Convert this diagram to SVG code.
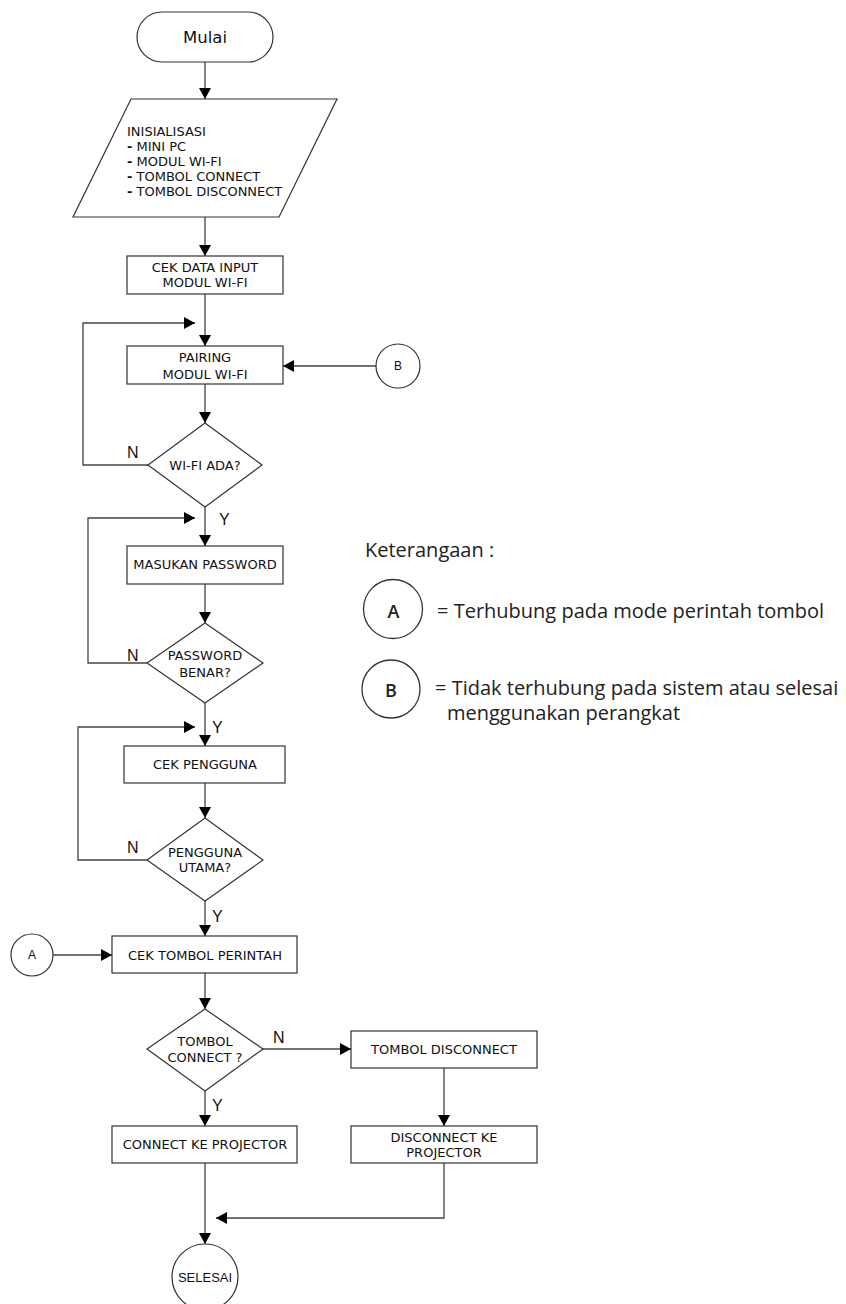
<svg xmlns="http://www.w3.org/2000/svg" width="846" height="1304" viewBox="0 0 846 1304">
<style>
.shape{fill:#fff;stroke:#333;stroke-width:1.2}
.conn{fill:none;stroke:#444;stroke-width:1.3}
.t{font-family:"DejaVu Sans",Verdana,sans-serif;font-size:13px;fill:#111}
.tc{text-anchor:middle}
.lbl{font-family:"Liberation Sans",Arial,sans-serif;font-size:16px;fill:#111}
.sm{font-family:"Liberation Sans",Arial,sans-serif;font-size:12px;fill:#111;text-anchor:middle}
.leg{font-family:"Open Sans","Noto Sans",sans-serif;font-size:20px;fill:#222}
.legc{fill:none;stroke:#333;stroke-width:1.3}
.legl{font-family:"Open Sans","Noto Sans",sans-serif;font-size:18px;font-weight:600;fill:#222;text-anchor:middle}
</style>
<defs>
<marker id="ah" markerUnits="userSpaceOnUse" markerWidth="12" markerHeight="12" refX="11" refY="6" orient="auto">
<path d="M0,0 L11,6 L0,12 z" fill="#000"/>
</marker>
</defs>
<rect width="846" height="1304" fill="#fff"/>

<g id="connectors">
<path class="conn" d="M205,62 V99" marker-end="url(#ah)"/>
<path class="conn" d="M205,217 V256" marker-end="url(#ah)"/>
<path class="conn" d="M205,294 V346" marker-end="url(#ah)"/>
<path class="conn" d="M376,366 H283" marker-end="url(#ah)"/>
<path class="conn" d="M205,384 V423" marker-end="url(#ah)"/>
<path class="conn" d="M148,465 H83 V323 H195" marker-end="url(#ah)"/>
<path class="conn" d="M205,507 V546" marker-end="url(#ah)"/>
<path class="conn" d="M205,584 V623" marker-end="url(#ah)"/>
<path class="conn" d="M147,663 H88 V518 H195" marker-end="url(#ah)"/>
<path class="conn" d="M205,703 V746" marker-end="url(#ah)"/>
<path class="conn" d="M205,783 V818" marker-end="url(#ah)"/>
<path class="conn" d="M147,860 H78 V727 H195" marker-end="url(#ah)"/>
<path class="conn" d="M205,901 V936" marker-end="url(#ah)"/>
<path class="conn" d="M53,955 H112" marker-end="url(#ah)"/>
<path class="conn" d="M205,973 V1009" marker-end="url(#ah)"/>
<path class="conn" d="M263,1049 H351" marker-end="url(#ah)"/>
<path class="conn" d="M205,1091 V1126" marker-end="url(#ah)"/>
<path class="conn" d="M444,1068 V1126" marker-end="url(#ah)"/>
<path class="conn" d="M205,1163 V1244" marker-end="url(#ah)"/>
<path class="conn" d="M444,1163 V1218 H216" marker-end="url(#ah)"/>
<text class="lbl" x="127" y="458">N</text>
<text class="lbl" x="219" y="525">Y</text>
<text class="lbl" x="127" y="661">N</text>
<text class="lbl" x="212" y="733">Y</text>
<text class="lbl" x="127" y="853">N</text>
<text class="lbl" x="212" y="922">Y</text>
<text class="lbl" x="273" y="1043">N</text>
<text class="lbl" x="212" y="1111">Y</text>
</g>

<g id="mulai">
<rect class="shape" x="137" y="12" width="136" height="50" rx="25"/>
<text class="t tc" x="205" y="43" style="font-size:16.5px">Mulai</text>
</g>

<g id="inisialisasi">
<polygon class="shape" points="131,99 337,99 279,217 73,217"/>
<text class="t" x="127" y="136">INISIALISASI</text>
<text class="t" x="127" y="151"><tspan font-weight="bold">-</tspan> MINI PC</text>
<text class="t" x="127" y="166"><tspan font-weight="bold">-</tspan> MODUL WI-FI</text>
<text class="t" x="127" y="181"><tspan font-weight="bold">-</tspan> TOMBOL CONNECT</text>
<text class="t" x="127" y="196"><tspan font-weight="bold">-</tspan> TOMBOL DISCONNECT</text>
</g>

<g id="cek-data">
<rect class="shape" x="127" y="256" width="156" height="38"/>
<text class="t tc" x="205" y="272">CEK DATA INPUT</text>
<text class="t tc" x="205" y="287">MODUL WI-FI</text>
</g>

<g id="pairing">
<rect class="shape" x="127" y="346" width="156" height="38"/>
<text class="t tc" x="205" y="362">PAIRING</text>
<text class="t tc" x="205" y="379">MODUL WI-FI</text>
</g>

<g id="conn-b">
<circle class="shape" cx="398" cy="366" r="22"/>
<text class="sm" x="398" y="370">B</text>
</g>

<g id="wifi-ada">
<polygon class="shape" points="205,423 262,465 205,507 148,465"/>
<text class="t tc" x="205" y="470">WI-FI ADA?</text>
</g>

<g id="masukan-password">
<rect class="shape" x="127" y="546" width="156" height="38"/>
<text class="t tc" x="205" y="569">MASUKAN PASSWORD</text>
</g>

<g id="password-benar">
<polygon class="shape" points="205,623 263,663 205,703 147,663"/>
<text class="t tc" x="205" y="660">PASSWORD</text>
<text class="t tc" x="205" y="677">BENAR?</text>
</g>

<g id="cek-pengguna">
<rect class="shape" x="124" y="746" width="161" height="37"/>
<text class="t tc" x="205" y="769">CEK PENGGUNA</text>
</g>

<g id="pengguna-utama">
<polygon class="shape" points="205,818 263,860 205,901 147,860"/>
<text class="t tc" x="205" y="857">PENGGUNA</text>
<text class="t tc" x="205" y="872">UTAMA?</text>
</g>

<g id="conn-a">
<circle class="shape" cx="32" cy="955" r="21"/>
<text class="sm" x="32" y="959">A</text>
</g>

<g id="cek-tombol">
<rect class="shape" x="112" y="936" width="185" height="37"/>
<text class="t tc" x="205" y="960">CEK TOMBOL PERINTAH</text>
</g>

<g id="tombol-connect">
<polygon class="shape" points="205,1009 263,1049 205,1091 147,1049"/>
<text class="t tc" x="205" y="1046">TOMBOL</text>
<text class="t tc" x="205" y="1062">CONNECT ?</text>
</g>

<g id="tombol-disconnect">
<rect class="shape" x="351" y="1031" width="186" height="37"/>
<text class="t tc" x="444" y="1054">TOMBOL DISCONNECT</text>
</g>

<g id="connect-projector">
<rect class="shape" x="112" y="1126" width="185" height="37"/>
<text class="t tc" x="205" y="1149">CONNECT KE PROJECTOR</text>
</g>

<g id="disconnect-projector">
<rect class="shape" x="351" y="1126" width="186" height="37"/>
<text class="t tc" x="444" y="1142">DISCONNECT KE</text>
<text class="t tc" x="444" y="1157">PROJECTOR</text>
</g>

<g id="selesai">
<circle class="shape" cx="205" cy="1277" r="33"/>
<text class="sm" x="205" y="1282" style="font-size:13px">SELESAI</text>
</g>

<g id="legend">
<text class="leg" x="365" y="557">Keterangaan :</text>
<circle class="legc" cx="393" cy="609" r="29.5"/>
<text class="legl" x="393.5" y="618">A</text>
<text class="leg" x="437" y="618">= Terhubung pada mode perintah tombol</text>
<circle class="legc" cx="391" cy="689" r="29"/>
<text class="legl" x="391" y="697">B</text>
<text class="leg" x="435" y="695">= Tidak terhubung pada sistem atau selesai</text>
<text class="leg" x="447" y="720">menggunakan perangkat</text>
</g>
</svg>
